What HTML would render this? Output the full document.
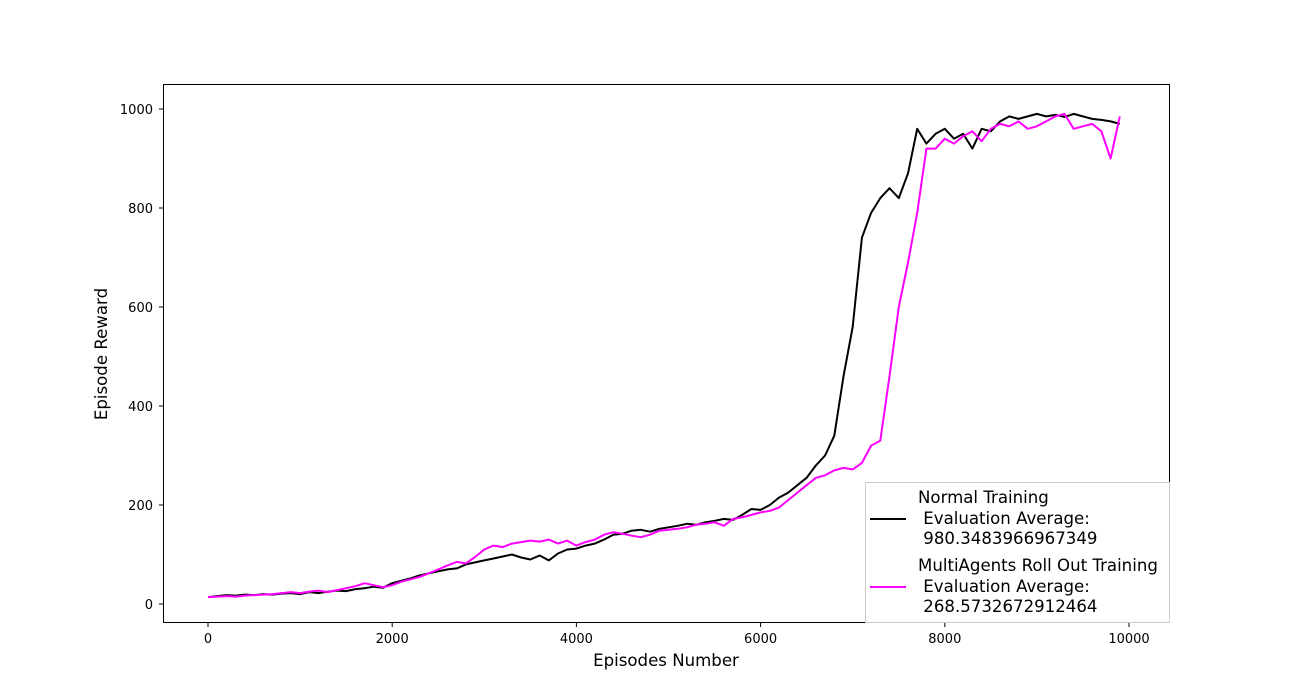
<!DOCTYPE html>
<html><head><meta charset="utf-8"><style>
body{margin:0;background:#fff;}
svg{display:block;font-family:"DejaVu Sans","Liberation Sans",sans-serif;}
</style></head><body>
<svg id="chart" width="1300" height="700" xmlns="http://www.w3.org/2000/svg">
<rect width="1300" height="700" fill="#fff"/>
<g id="plot"></g>
<rect x="163.5" y="84.5" width="1006" height="538" fill="none" stroke="#000" stroke-width="1"/>
<g id="xticks"></g>
<g id="yticks"></g>
<text x="666" y="666" font-size="16.6" text-anchor="middle">Episodes Number</text>
<text transform="translate(107,354) rotate(-90)" font-size="16.6" text-anchor="middle">Episode Reward</text>
<g>
<rect x="865.5" y="482.5" width="304" height="140" fill="#fff" fill-opacity="0.8" stroke="#ccc"/>
<g>
<line x1="870" y1="519" x2="906" y2="519" stroke="#000" stroke-width="2"/>
<text x="918" y="503" font-size="16.6">Normal Training</text>
<text x="918" y="524" font-size="16.6">&#160;Evaluation Average:</text>
<text x="918" y="544" font-size="16.6">&#160;980.3483966967349</text>
</g>
<g>
<line x1="870" y1="587" x2="906" y2="587" stroke="#ff00ff" stroke-width="2"/>
<text x="918" y="571" font-size="16.6">MultiAgents Roll Out Training</text>
<text x="918" y="592" font-size="16.6">&#160;Evaluation Average:</text>
<text x="918" y="612" font-size="16.6">&#160;268.5732672912464</text>
</g>
</g>
</svg>
<script>
const step = 100;
const xTicks = [0,2000,4000,6000,8000,10000];
const yTicks = [0,200,400,600,800,1000];
const normalValues = [14,16,18,17,19,18,20,19,21,22,
20,24,22,25,27,26,30,32,35,33,
42,47,52,58,62,66,70,72,80,84,
88,92,96,100,94,90,98,88,102,110,
112,118,122,130,140,142,148,150,146,152,
155,158,162,160,165,168,172,170,180,192,
190,200,215,225,240,255,280,300,340,460,
560,740,790,820,840,820,870,960,930,950,
960,940,950,920,960,955,975,985,980,985,
990,985,988,984,990,985,980,978,975,970];
const multiValues = [14,15,16,15,17,18,19,20,22,24,
22,25,27,24,28,32,36,42,38,34,
38,45,50,55,62,70,78,85,82,95,
110,118,115,122,125,128,126,130,122,128,
118,125,130,140,145,142,138,135,140,148,
150,152,155,160,162,165,158,172,175,180,
185,188,195,210,225,240,255,260,270,275,
272,285,320,330,460,600,690,790,920,920,
940,930,945,955,935,960,970,965,975,960,
965,975,985,990,960,965,970,955,900,985];
const NS='http://www.w3.org/2000/svg';
function xs(v){return 208+(v/10000)*(1129-208);}
function ys(v){return 604-(v/1000)*(604-109);}
const plot=document.getElementById('plot');
function line(vals,color,name){
  const p=document.createElementNS(NS,'path');
  
  
  p.setAttribute('d',vals.map((v,i)=>(i?'L':'M')+xs(i*step).toFixed(1)+','+ys(v).toFixed(1)).join(''));
  p.setAttribute('fill','none');p.setAttribute('stroke',color);p.setAttribute('stroke-width','2');
  p.setAttribute('stroke-linejoin','round');
  plot.appendChild(p);
}
line(normalValues,'#000','normal-training-line');
line(multiValues,'#ff00ff','multiagents-training-line');
const xg=document.getElementById('xticks');
xTicks.forEach(t=>{
  const l=document.createElementNS(NS,'line');
  
  
  l.setAttribute('x1',xs(t));l.setAttribute('x2',xs(t));l.setAttribute('y1',623);l.setAttribute('y2',627);l.setAttribute('stroke','#000');
  xg.appendChild(l);
  const tx=document.createElementNS(NS,'text');
  
  
  tx.setAttribute('x',xs(t));tx.setAttribute('y',643);tx.setAttribute('font-size','13');tx.setAttribute('text-anchor','middle');
  tx.textContent=t;xg.appendChild(tx);
});
const yg=document.getElementById('yticks');
yTicks.forEach(t=>{
  const l=document.createElementNS(NS,'line');
  
  
  l.setAttribute('x1',159);l.setAttribute('x2',163);l.setAttribute('y1',ys(t));l.setAttribute('y2',ys(t));l.setAttribute('stroke','#000');
  yg.appendChild(l);
  const tx=document.createElementNS(NS,'text');
  
  
  tx.setAttribute('x',153);tx.setAttribute('y',ys(t)+5);tx.setAttribute('font-size','13');tx.setAttribute('text-anchor','end');
  tx.textContent=t;yg.appendChild(tx);
});
</script>
</body></html>
